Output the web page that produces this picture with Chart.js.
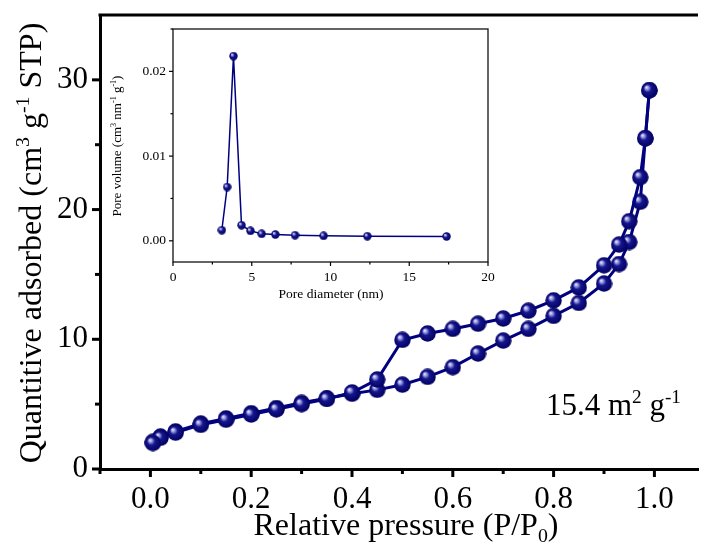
<!DOCTYPE html>
<html>
<head>
<meta charset="utf-8">
<script src="https://cdn.jsdelivr.net/npm/chart.js@4/dist/chart.umd.min.js"></script>
<style>
  html, body { margin: 0; padding: 0; background: #fff; overflow: hidden; }
  #wrap { position: relative; width: 705px; height: 549px; }
  #wrap canvas { position: absolute; left: 0; top: 0; }
</style>
</head>
<body>
<div id="wrap">
  <canvas id="main" width="705" height="549"></canvas>
  <canvas id="inset" width="705" height="549"></canvas>
</div>
<script>
// isotherm, adsorption branch
const ads_p = [0.005, 0.02, 0.05, 0.1, 0.15, 0.2, 0.25, 0.3, 0.35, 0.4, 0.45, 0.5, 0.55, 0.6, 0.65, 0.7, 0.75, 0.8, 0.85, 0.9, 0.93, 0.95, 0.972, 0.982, 0.99];
const ads_q = [2.1, 2.5, 2.9, 3.5, 3.9, 4.3, 4.7, 5.1, 5.45, 5.8, 6.1, 6.5, 7.1, 7.85, 8.9, 9.9, 10.8, 11.8, 12.8, 14.3, 15.8, 17.5, 20.6, 25.5, 29.2];
// desorption branch
const des_p = [0.99, 0.982, 0.972, 0.95, 0.93, 0.9, 0.85, 0.8, 0.75, 0.7, 0.65, 0.6, 0.55, 0.5, 0.45, 0.4, 0.35, 0.3, 0.25, 0.2, 0.15, 0.1, 0.05, 0.02, 0.005];
const des_q = [29.2, 25.5, 22.5, 19.1, 17.3, 15.7, 14.0, 13.0, 12.2, 11.6, 11.2, 10.8, 10.45, 9.95, 6.9, 5.9, 5.4, 5.0, 4.6, 4.2, 3.8, 3.4, 2.8, 2.4, 2.0];
// inset: pore size distribution
const pore_d = [3.10, 3.44, 3.84, 4.35, 4.92, 5.63, 6.50, 7.75, 9.56, 12.34, 17.37];
const pore_v = [0.00125, 0.00635, 0.0218, 0.00184, 0.00118, 0.00082, 0.00074, 0.00066, 0.00059, 0.00054, 0.00051];

const x_ticks = [-0.1, 0, 0.1, 0.2, 0.3, 0.4, 0.5, 0.6, 0.7, 0.8, 0.9, 1.0];
const y_ticks = [0, 5, 10, 15, 20, 25, 30];
const inset_x_ticks = [0, 2.5, 5, 7.5, 10, 12.5, 15, 17.5, 20];
const inset_y_ticks = [0, 0.005, 0.01, 0.015, 0.02, 0.025];

const SERIF = "'Liberation Serif', 'Times New Roman', serif";
const NAVY = "#000080";

function make_ball(d) {
  const c = document.createElement("canvas");
  c.width = d; c.height = d;
  const g = c.getContext("2d");
  const r = d / 2;
  const grad = g.createRadialGradient(r - r * 0.38, r - r * 0.38, 0, r, r, r);
  grad.addColorStop(0, "#f6f6ff");
  grad.addColorStop(0.2, "#a0a0e4");
  grad.addColorStop(0.45, "#16168f");
  grad.addColorStop(1, "#00005e");
  g.fillStyle = grad;
  g.beginPath();
  g.arc(r, r, r - 0.3, 0, Math.PI * 2);
  g.fill();
  return c;
}

function to_points(xs, ys) {
  return xs.map((x, i) => ({ x: x, y: ys[i] }));
}

// text pieces with sup/sub, starting at x (left), baseline y
function rich_width(ctx, parts, size) {
  let w = 0;
  parts.forEach((p) => {
    ctx.font = (p.sup || p.sub ? size * 0.62 : size) + "px " + SERIF;
    w += ctx.measureText(p.t).width;
  });
  return w;
}
function draw_rich(ctx, parts, x, y, size) {
  let cx = x;
  parts.forEach((p) => {
    const s = p.sup || p.sub ? size * 0.62 : size;
    ctx.font = s + "px " + SERIF;
    let dy = 0;
    if (p.sup) dy = -size * 0.38;
    if (p.sub) dy = size * 0.22;
    ctx.fillText(p.t, cx, y + dy);
    cx += ctx.measureText(p.t).width;
  });
}
function draw_rich_centered(ctx, parts, cx, y, size, rotate) {
  ctx.save();
  ctx.fillStyle = "#000";
  ctx.textAlign = "left";
  ctx.textBaseline = "alphabetic";
  const w = rich_width(ctx, parts, size);
  if (rotate) {
    ctx.translate(cx, y);
    ctx.rotate(-Math.PI / 2);
    draw_rich(ctx, parts, -w / 2, 0, size);
  } else {
    draw_rich(ctx, parts, cx - w / 2, y, size);
  }
  ctx.restore();
}

function draw_ticks(ctx, scale, values, is_major, major_len, minor_len, width) {
  ctx.save();
  ctx.strokeStyle = "#000";
  ctx.lineWidth = width;
  values.forEach((v) => {
    const len = is_major(v) ? major_len : minor_len;
    ctx.beginPath();
    if (scale.isHorizontal()) {
      const px = scale.getPixelForValue(v);
      ctx.moveTo(px, scale.top);
      ctx.lineTo(px, scale.top + len);
    } else {
      const py = scale.getPixelForValue(v);
      ctx.moveTo(scale.right, py);
      ctx.lineTo(scale.right - len, py);
    }
    ctx.stroke();
  });
  ctx.restore();
}

const is_major_x = (v) => Math.abs(Math.round(v * 10) % 2) === 0;
const is_major_y = (v) => v % 10 === 0;
const is_major_ix = (v) => v % 5 === 0;
const is_major_iy = (v) => Math.abs(v * 100 - Math.round(v * 100)) < 1e-6;

const main_deco = {
  id: "main_deco",
  afterDraw(chart) {
    const ctx = chart.ctx;
    const a = chart.chartArea;
    ctx.save();
    ctx.strokeStyle = "#000";
    ctx.lineWidth = 3;
    ctx.beginPath();
    ctx.moveTo(a.left - 1.5, a.top);
    ctx.lineTo(a.right, a.top);
    ctx.stroke();
    ctx.restore();
    draw_ticks(ctx, chart.scales.x, x_ticks, is_major_x, 8, 5, 3);
    draw_ticks(ctx, chart.scales.y, y_ticks, is_major_y, 8, 5, 3);

    draw_rich_centered(ctx, [
      { t: "Relative pressure (P/P" }, { t: "0", sub: true }, { t: ")" }
    ], 406, 535, 32, false);
    draw_rich_centered(ctx, [
      { t: "Quantitive adsorbed (cm" }, { t: "3", sup: true }, { t: " g" },
      { t: "-1", sup: true }, { t: " STP)" }
    ], 41, 243, 32, true);

    ctx.save();
    ctx.fillStyle = "#000";
    ctx.textAlign = "left";
    ctx.textBaseline = "alphabetic";
    draw_rich(ctx, [
      { t: "15.4 m" }, { t: "2", sup: true }, { t: " g" }, { t: "-1", sup: true }
    ], 546, 415, 31);
    ctx.restore();
  }
};

const inset_deco = {
  id: "inset_deco",
  afterDraw(chart) {
    const ctx = chart.ctx;
    const a = chart.chartArea;
    ctx.save();
    ctx.strokeStyle = "#111";
    ctx.lineWidth = 1.3;
    ctx.strokeRect(a.left, a.top, a.right - a.left, a.bottom - a.top);
    ctx.restore();
    draw_ticks(ctx, chart.scales.x, inset_x_ticks, is_major_ix, 4, 2.5, 1.2);
    draw_ticks(ctx, chart.scales.y, inset_y_ticks, is_major_iy, 4, 2.5, 1.2);

    draw_rich_centered(ctx, [{ t: "Pore diameter (nm)" }], 331, 298, 13.5, false);
    draw_rich_centered(ctx, [
      { t: "Pore volume (cm" }, { t: "3", sup: true }, { t: " nm" },
      { t: "-1", sup: true }, { t: " g" }, { t: "-1", sup: true }, { t: ")" }
    ], 121, 146, 13, true);
  }
};

const no_pad = (s) => {
  s.paddingTop = 0; s.paddingBottom = 0;
  s.paddingLeft = 0; s.paddingRight = 0;
};

const big_ball = make_ball(17);
const small_ball = make_ball(9);

new Chart(document.getElementById("main"), {
  type: "scatter",
  data: {
    datasets: [
      {
        data: to_points(des_p, des_q),
        showLine: true,
        borderColor: NAVY,
        borderWidth: 3,
        pointStyle: big_ball,
        tension: 0,
      },
      {
        data: to_points(ads_p, ads_q),
        showLine: true,
        borderColor: NAVY,
        borderWidth: 3,
        pointStyle: big_ball,
        tension: 0,
      },
    ],
  },
  options: {
    responsive: false,
    animation: false,
    events: [],
    layout: { padding: { top: 15, left: 0, right: 0, bottom: 0 } },
    plugins: { legend: { display: false }, tooltip: { enabled: false } },
    scales: {
      x: {
        type: "linear",
        min: -0.1,
        max: 1.0865,
        afterBuildTicks: (s) => { s.ticks = x_ticks.map((v) => ({ value: v })); },
        afterFit: (s) => { s.height = 80; no_pad(s); },
        grid: { drawOnChartArea: false, drawTicks: false },
        border: { display: true, width: 3, color: "#000" },
        ticks: {
          autoSkip: false,
          maxRotation: 0,
          padding: 12,
          color: "#000",
          font: { family: SERIF, size: 31 },
          callback: (v) => (is_major_x(v) ? v.toFixed(1) : ""),
        },
      },
      y: {
        type: "linear",
        min: 0,
        max: 35,
        afterBuildTicks: (s) => { s.ticks = y_ticks.map((v) => ({ value: v })); },
        afterFit: (s) => { s.width = 100; no_pad(s); },
        grid: { drawOnChartArea: false, drawTicks: false },
        border: { display: true, width: 3, color: "#000" },
        ticks: {
          padding: 12,
          color: "#000",
          font: { family: SERIF, size: 31 },
          callback: (v) => (is_major_y(v) ? String(v) : ""),
        },
      },
    },
  },
  plugins: [main_deco],
});

new Chart(document.getElementById("inset"), {
  type: "scatter",
  data: {
    datasets: [
      {
        data: to_points(pore_d, pore_v),
        showLine: true,
        borderColor: NAVY,
        borderWidth: 1.5,
        pointStyle: small_ball,
        tension: 0,
      },
    ],
  },
  options: {
    responsive: false,
    animation: false,
    events: [],
    layout: { padding: { top: 29, left: 0, right: 217, bottom: 0 } },
    plugins: { legend: { display: false }, tooltip: { enabled: false } },
    scales: {
      x: {
        type: "linear",
        min: 0,
        max: 20,
        afterBuildTicks: (s) => { s.ticks = inset_x_ticks.map((v) => ({ value: v })); },
        afterFit: (s) => { s.height = 287; no_pad(s); },
        grid: { drawOnChartArea: false, drawTicks: false },
        border: { display: false },
        ticks: {
          autoSkip: false,
          maxRotation: 0,
          padding: 7,
          color: "#000",
          font: { family: SERIF, size: 13.5 },
          callback: (v) => (is_major_ix(v) ? String(v) : ""),
        },
      },
      y: {
        type: "linear",
        min: -0.0025,
        max: 0.025,
        afterBuildTicks: (s) => { s.ticks = inset_y_ticks.map((v) => ({ value: v })); },
        afterFit: (s) => { s.width = 173; no_pad(s); },
        grid: { drawOnChartArea: false, drawTicks: false },
        border: { display: false },
        ticks: {
          padding: 7,
          color: "#000",
          font: { family: SERIF, size: 13.5 },
          callback: (v) => (is_major_iy(v) ? v.toFixed(2) : ""),
        },
      },
    },
  },
  plugins: [inset_deco],
});
</script>
</body>
</html>
